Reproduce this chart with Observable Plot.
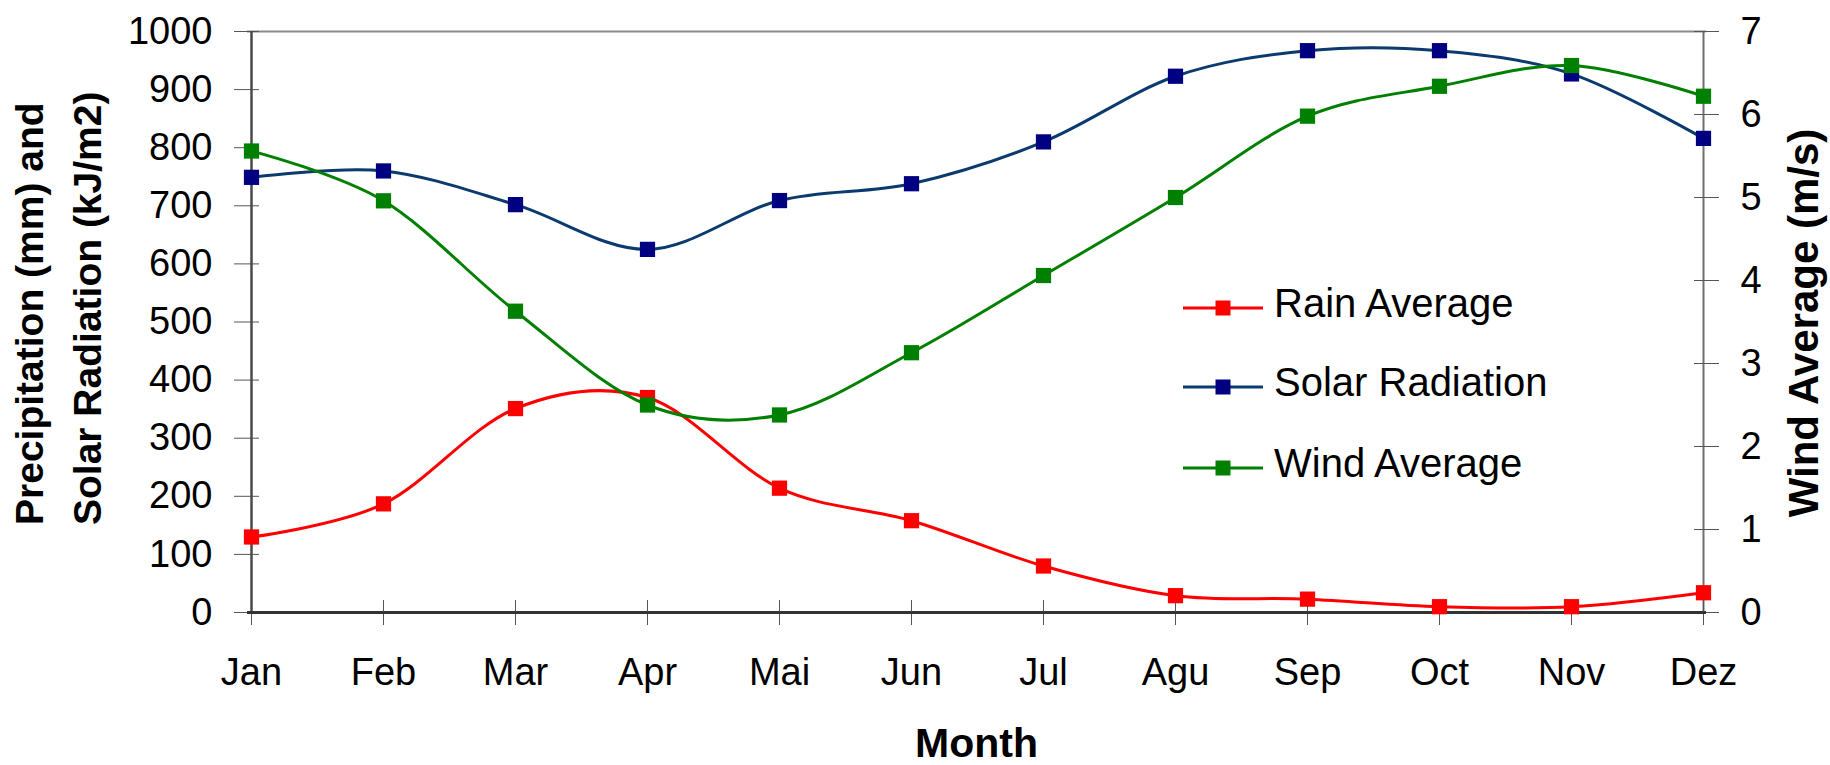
<!DOCTYPE html>
<html>
<head>
<meta charset="utf-8">
<script src="https://cdn.jsdelivr.net/npm/d3@7"></script>
<script src="https://cdn.jsdelivr.net/npm/@observablehq/plot@0.6"></script>
<style>
  html, body { margin: 0; padding: 0; background: #ffffff; }
  #chart { width: 1830px; height: 765px; }
</style>
</head>
<body>
<div id="chart"></div>
<script>
// ---- data ----
const months = ["Jan", "Feb", "Mar", "Apr", "Mai", "Jun", "Jul", "Agu", "Sep", "Oct", "Nov", "Dez"];
const rainAverage = [130, 187, 351, 370, 214, 158, 80, 29, 23, 10, 10, 34];          // mm
const solarRadiation = [749, 760, 702, 625, 709, 738, 810, 923, 967, 967, 927, 816]; // kJ/m2
const windAverage = [5.56, 4.96, 3.63, 2.50, 2.38, 3.13, 4.06, 5.00, 5.98, 6.34, 6.59, 6.22]; // m/s
const leftTicks = [0, 100, 200, 300, 400, 500, 600, 700, 800, 900, 1000];
const rightTicks = [0, 1, 2, 3, 4, 5, 6, 7];
const leftMax = 1000;
const rightMax = 7;

const toLeft = w => w * leftMax / rightMax;

const rows = months.map((m, i) => ({
  month: m,
  rain: rainAverage[i],
  solar: solarRadiation[i],
  wind: toLeft(windAverage[i])
}));

const series = [
  {key: "rain", name: "Rain Average", line: "#ff0000", marker: "#ff0000"},
  {key: "solar", name: "Solar Radiation", line: "#0a3a6e", marker: "#000080"},
  {key: "wind", name: "Wind Average", line: "#008000", marker: "#008000"}
];

const FONT = "'Liberation Sans', Arial, Helvetica, sans-serif";
const W = 1830, H = 765;
const mL = 247, mR = 124, mT = 31, mB = 153;

const chart = Plot.plot({
  width: W,
  height: H,
  marginLeft: mL,
  marginRight: mR,
  marginTop: mT,
  marginBottom: mB,
  style: {fontFamily: FONT, fontSize: "38px", color: "#000", background: "#fff", overflow: "visible"},
  x: {type: "point", domain: months, padding: 0, label: null},
  y: {domain: [0, leftMax], label: null},
  marks: [
    // frame
    Plot.ruleY([leftMax], {stroke: "#8a8a8a", strokeWidth: 2}),
    Plot.ruleX([months[months.length - 1]], {stroke: "#707070", strokeWidth: 2}),
    // left axis
    Plot.axisY(leftTicks, {anchor: "left", tickSize: 13, tickPadding: 22, label: null, stroke: "#555", fontSize: 38, fill: "#000",
      tickFormat: d => String(d)}),
    Plot.axisY(leftTicks, {anchor: "left", tickSize: 12, dx: 12, tickFormat: () => "", label: null, stroke: "#555"}),
    // right axis (wind)
    Plot.axisY(rightTicks.map(toLeft), {anchor: "right", tickSize: 12, tickPadding: 22, label: null, stroke: "#555", fontSize: 38, fill: "#000",
      tickFormat: d => String(Math.round(d * rightMax / leftMax))}),
    Plot.axisY(rightTicks.map(toLeft), {anchor: "right", tickSize: 13, dx: -13, tickFormat: () => "", label: null, stroke: "#555"}),
    // x axis
    Plot.axisX(months, {anchor: "bottom", tickSize: 13, tickPadding: 33, label: null, stroke: "#555", fontSize: 38, fill: "#000"}),
    Plot.axisX(months, {anchor: "bottom", tickSize: 12, dy: -12, tickFormat: () => "", label: null, stroke: "#555"}),
    Plot.ruleX([months[0]], {stroke: "#4a4a4a", strokeWidth: 2.5}),
    Plot.ruleY([0], {stroke: "#333", strokeWidth: 3}),
    // series
    ...series.flatMap(s => [
      Plot.line(rows, {x: "month", y: s.key, stroke: s.line, strokeWidth: 3, curve: "cardinal", tension: 0}),
      Plot.dot(rows, {x: "month", y: s.key, symbol: "square", r: 8.6, fill: s.marker, stroke: "none"})
    ])
  ]
});

document.getElementById("chart").appendChild(chart);

// ---- axis titles & legend as real SVG text ----
const svg = d3.select(chart);

const leftTitle = ["Precipitation (mm) and", "Solar Radiation (kJ/m2)"];
const leftTitleX = [43, 101];
leftTitle.forEach((t, i) => {
  svg.append("text")
    .attr("transform", `translate(${leftTitleX[i]},525) rotate(-90)`)
    .attr("text-anchor", "start")
    .style("font-family", FONT).style("font-size", "39px").style("font-weight", "bold")
    .attr("fill", "#000")
    .text(t);
});

svg.append("text")
  .attr("transform", `translate(1818,323) rotate(-90)`)
  .attr("text-anchor", "middle")
  .style("font-family", FONT).style("font-size", "42px").style("font-weight", "bold")
  .attr("fill", "#000")
  .text("Wind Average (m/s)");

svg.append("text")
  .attr("x", (mL + (W - mR)) / 2)
  .attr("y", 757)
  .attr("text-anchor", "middle")
  .style("font-family", FONT).style("font-size", "41px").style("font-weight", "bold")
  .attr("fill", "#000")
  .text("Month");

// legend
const legendY = [308, 387, 468];
const lg = svg.append("g").attr("text-anchor", "start");
series.forEach((s, i) => {
  const y = legendY[i];
  lg.append("line").attr("x1", 1183).attr("x2", 1263).attr("y1", y).attr("y2", y)
    .attr("stroke", s.line).attr("stroke-width", 3);
  lg.append("rect").attr("x", 1223 - 7.5).attr("y", y - 7.5).attr("width", 15).attr("height", 15)
    .attr("fill", s.marker);
  lg.append("text").attr("x", 1274).attr("y", y + 9)
    .attr("text-anchor", "start")
    .style("font-family", FONT).style("font-size", "40px")
    .attr("fill", "#000")
    .text(s.name);
});
</script>
</body>
</html>
